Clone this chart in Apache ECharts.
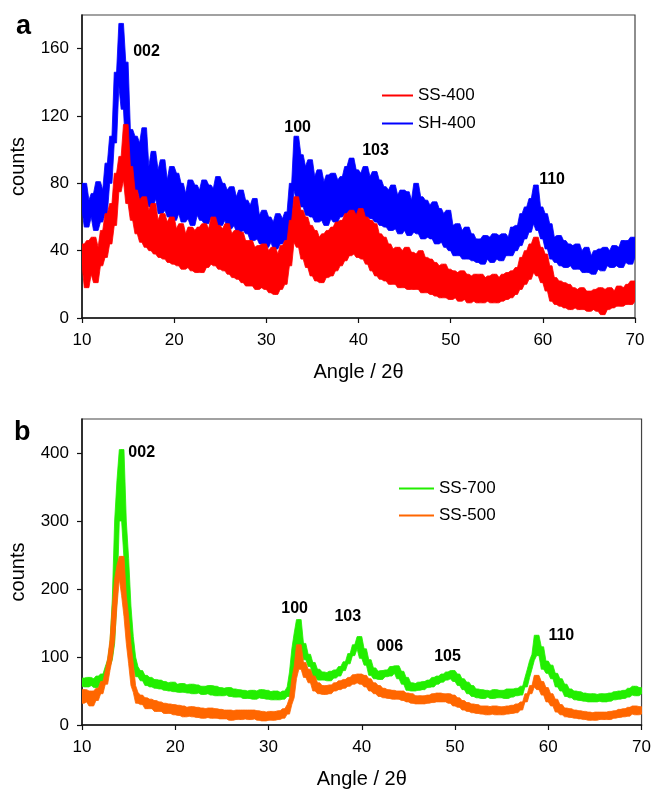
<!DOCTYPE html>
<html>
<head>
<meta charset="utf-8">
<script src="https://cdn.jsdelivr.net/npm/echarts@6/dist/echarts.min.js"></script>
<style>
html,body{margin:0;padding:0;background:#fff;}
#chart{width:654px;height:790px;}
</style>
</head>
<body>
<div id="chart"></div>
<script>
// Measurement grid: 2θ from 10 to 70 in 0.25° steps (241 points)
const angleStart = 10;
const angleStep = 0.25;

// Panel a
const sh400 = [
64,80,54,70, 60,74,52,81, 57,76,62,92, 80,108,104,146, 138,175,124,152,
98,112,82,108, 76,104,70,113, 69,90,66,99, 71,88,62,94, 64,82,60,90,
58,86,62,80, 57,74,59,82, 55,79,61,76, 58,82,56,79, 60,77,57,84,
55,80,58,76, 53,78,55,72, 51,76,52,70, 50,67,46,71, 47,61,44,64,
42,60,45,57, 41,62,44,59, 46,63,52,80, 76,108,70,97, 66,90,61,94,
60,84,57,88, 58,81,55,85, 59,86,57,82, 60,84,62,90, 64,95,60,88,
62,86,58,90, 60,84,59,87, 57,82,55,78, 54,76,52,79, 53,73,50,76,
52,75,49,70, 51,80,50,72, 47,70,48,67, 47,69,44,65, 45,62,42,64,
40,55,37,56, 37,52,35,54, 35,50,34,47, 33,47,32,49, 35,48,33,50,
35,49,34,50, 37,48,37,54, 40,55,43,62, 47,66,51,71, 56,79,52,66,
47,62,41,56, 35,48,33,49, 31,46,30,44, 31,43,29,44, 29,40,27,42,
27,37,26,40, 29,41,28,42, 31,40,30,43, 31,42,30,46, 33,46,32,48,
36
];
const ss400 = [
32,44,18,46, 26,48,21,42, 31,52,36,62, 44,68,55,86, 75,96,82,115,
68,90,58,76, 50,70,45,72, 42,64,40,68, 38,58,36,62, 35,57,33,60,
32,53,31,56, 29,50,30,54, 28,52,27,54, 27,56,30,53, 32,60,31,55,
29,53,28,56, 26,50,24,52, 23,51,21,46, 19,46,19,42, 17,43,18,44,
17,40,15,42, 14,38,17,43, 20,46,31,58, 45,72,42,64, 35,60,30,55,
25,52,22,48, 21,50,24,52, 25,54,28,57, 31,58,34,62, 37,64,38,61,
36,65,35,60, 32,58,28,56, 25,50,23,48, 22,44,20,41, 20,42,18,40,
18,42,17,39, 17,38,17,40, 15,36,15,35, 14,33,13,31, 12,32,12,29,
11,28,12,27, 10,28,11,26, 9,25,10,26, 9,26,9,24, 10,25,9,26,
9,24,10,26, 11,27,12,28, 14,30,17,36, 20,40,23,44, 27,48,25,42,
21,38,16,31, 10,24,8,22, 7,21,6,20, 5,18,6,17, 5,18,5,16,
4,16,5,17, 4,18,2,17, 5,18,6,16, 7,19,7,18, 8,20,8,22,
10
];

// Panel b
const ss700 = [
57,69,56,70, 58,68,55,72, 64,75,73,86, 96,120,185,300, 360,405,300,245,
175,130,100,86, 71,80,65,73, 58,70,56,67, 54,66,53,64, 51,62,50,63,
49,60,48,61, 48,59,47,60, 46,59,47,57, 45,57,46,58, 44,57,43,55,
43,54,44,55, 42,53,41,52, 41,51,39,50, 39,51,38,50, 40,52,39,51,
38,49,37,50, 37,48,38,50, 42,56,78,112, 135,155,112,120, 96,104,86,92,
71,82,66,78, 66,77,65,79, 69,81,72,86, 80,93,90,105, 102,118,112,130,
98,112,88,96, 73,84,68,79, 67,80,71,81, 72,86,76,87, 68,79,60,70,
51,62,50,61, 51,63,52,64, 55,66,56,70, 60,72,63,75, 66,78,68,80,
64,75,58,68, 52,63,46,58, 42,53,40,52, 39,51,41,50, 39,52,40,51,
40,51,39,53, 41,53,43,54, 44,57,56,70, 82,95,104,132, 102,115,82,94,
76,88,68,76, 56,68,50,60, 42,53,40,50, 37,49,36,47, 35,46,34,46,
34,45,35,46, 34,46,35,47, 37,49,38,50, 39,51,41,54, 44,57,43,55,
46
];
const ss500 = [
32,52,34,50, 28,50,36,54, 46,64,60,80, 98,125,175,215, 235,248,190,160,
120,90,58,48, 32,44,30,40, 24,38,24,36, 20,34,20,32, 17,31,17,30,
15,29,14,28, 12,26,13,27, 12,26,11,25, 10,24,11,25, 10,24,10,23,
9,22,9,22, 7,21,8,22, 8,22,9,22, 8,22,9,21, 7,20,6,19,
7,20,7,20, 8,21,10,24, 16,30,40,68, 86,118,82,92, 70,82,62,72,
50,62,46,58, 45,58,46,59, 50,62,52,65, 54,67,57,70, 60,74,62,75,
60,73,56,68, 50,62,46,58, 42,54,40,52, 39,51,38,50, 38,50,36,47,
34,46,32,43, 31,43,31,43, 32,44,33,46, 34,47,34,46, 34,46,32,44,
28,40,26,36, 22,33,20,31, 18,30,17,28, 16,28,15,27, 16,28,15,27,
15,27,16,28, 17,29,18,31, 22,34,34,46, 46,58,56,73, 52,64,44,55,
34,46,28,38, 19,30,15,25, 12,24,11,22, 10,21,9,20, 8,19,7,18,
7,19,8,19, 8,19,8,20, 10,21,11,23, 12,24,13,26, 16,28,15,27,
16
];

// Axis ticks
const xTicks = [10, 20, 30, 40, 50, 60, 70];
const yTicksA = [0, 40, 80, 120, 160];
const yTicksB = [0, 100, 200, 300, 400];

// Peak labels (text, 2θ, counts)
const peaksA = [['002', 17.0, 158], ['100', 33.4, 113], ['103', 41.85, 99.5], ['110', 61.0, 82]];
const peaksB = [['002', 16.4, 401], ['100', 32.8, 171], ['103', 38.5, 160], ['006', 43.0, 116], ['105', 49.2, 101], ['110', 61.4, 132]];

function angleAt(i) { return angleStart + i * angleStep; }

const FONT = '"Liberation Sans", Arial, sans-serif';
const chart = echarts.init(document.getElementById('chart'), null, {renderer: 'canvas'});

function xAxisDef(gi) {
  return {
    type: 'value', gridIndex: gi, min: xTicks[0], max: xTicks[xTicks.length - 1],
    interval: xTicks[1] - xTicks[0],
    name: 'Angle / 2θ', nameLocation: 'middle', nameGap: 44,
    nameTextStyle: {fontFamily: FONT, fontSize: 20, color: '#000'},
    axisLine: {show: true, onZero: false, lineStyle: {color: '#111', width: 1.5}},
    axisTick: {show: true, inside: false, length: 5, lineStyle: {color: '#111', width: 1.2}},
    axisLabel: {fontFamily: FONT, fontSize: 17, color: '#000', margin: 14},
    splitLine: {show: false}
  };
}
function yAxisDef(gi, ticks, max) {
  return {
    type: 'value', gridIndex: gi, min: ticks[0], max: max,
    interval: ticks[1] - ticks[0],
    name: 'counts', nameLocation: 'middle', nameGap: 54,
    nameTextStyle: {fontFamily: FONT, fontSize: 20, color: '#000'},
    axisLine: {show: true, onZero: false, lineStyle: {color: '#111', width: 1.5}},
    axisTick: {show: true, inside: false, length: 5, lineStyle: {color: '#111', width: 1.2}},
    axisLabel: {fontFamily: FONT, fontSize: 17, color: '#000', margin: 13, showMaxLabel: false},
    splitLine: {show: false}
  };
}
// Noisy trace drawn as a solid band spanning the local spread of the read values
function bandSeries(name, data, color, xi, yi, z) {
  const n = data.length;
  const lo = data.map((v, i) => Math.min(data[Math.max(0, i - 1)], v, data[Math.min(n - 1, i + 1)]));
  const hi = data.map((v, i) => Math.max(data[Math.max(0, i - 1)], v, data[Math.min(n - 1, i + 1)]));
  return {
    name: name, type: 'custom', coordinateSystem: 'cartesian2d',
    xAxisIndex: xi, yAxisIndex: yi, z: z, silent: true, animation: false, clip: true,
    itemStyle: {color: color},
    data: [[angleAt(0), data[0]]],
    encode: {x: 0, y: 1},
    renderItem: function (params, api) {
      const pts = [];
      for (let i = 0; i < n; i++) pts.push(api.coord([angleAt(i), hi[i]]));
      for (let i = n - 1; i >= 0; i--) pts.push(api.coord([angleAt(i), lo[i]]));
      const line = [];
      for (let i = 0; i < n; i++) line.push(api.coord([angleAt(i), data[i]]));
      return {
        type: 'group',
        children: [
          {type: 'polygon', shape: {points: pts}, style: {fill: color, stroke: color, lineWidth: 0.8}},
          {type: 'polyline', shape: {points: line}, style: {fill: null, stroke: color, lineWidth: 1}}
        ]
      };
    }
  };
}
function peakSeries(peaks, xi, yi) {
  return {
    type: 'scatter', xAxisIndex: xi, yAxisIndex: yi, symbolSize: 0,
    itemStyle: {color: '#000'},
    data: peaks.map(p => ({name: p[0], value: [p[1], p[2]]})),
    label: {show: true, position: [0, 0], align: 'center', verticalAlign: 'middle',
            formatter: '{b}', fontFamily: FONT,
            fontSize: 16, fontWeight: 'bold', color: '#000',
            textBorderWidth: 0, textBorderColor: 'transparent', opacity: 1},
    z: 10, animation: false, silent: true
  };
}

chart.setOption({
  backgroundColor: '#fff',
  animation: false,
  title: [
    {text: 'a', left: 11, top: 8, textStyle: {fontFamily: FONT, fontSize: 27, fontWeight: 'bold', color: '#000'}},
    {text: 'b', left: 9, top: 414, textStyle: {fontFamily: FONT, fontSize: 27, fontWeight: 'bold', color: '#000'}}
  ],
  grid: [
    {left: 81, top: 15, width: 554, height: 303, show: true, borderColor: '#444', borderWidth: 1.2, backgroundColor: 'transparent'},
    {left: 77, top: 419, width: 566, height: 308, show: true, borderColor: '#444', borderWidth: 1.2, backgroundColor: 'transparent'}
  ],
  legend: [
    {data: ['SS-400', 'SH-400'], orient: 'vertical', left: 377, top: 82, icon: 'rect', itemWidth: 31, itemHeight: 2, itemGap: 11,
     textStyle: {fontFamily: FONT, fontSize: 17, color: '#000'}, selectedMode: false},
    {data: ['SS-700', 'SS-500'], orient: 'vertical', left: 394, top: 475, icon: 'rect', itemWidth: 35, itemHeight: 2, itemGap: 10,
     textStyle: {fontFamily: FONT, fontSize: 17, color: '#000'}, selectedMode: false}
  ],
  xAxis: [xAxisDef(0), xAxisDef(1)],
  yAxis: [yAxisDef(0, yTicksA, 180), yAxisDef(1, yTicksB, 450)],
  series: [
    bandSeries('SH-400', sh400, '#0000ff', 0, 0, 2),
    bandSeries('SS-400', ss400, '#ff0000', 0, 0, 3),
    peakSeries(peaksA, 0, 0),
    bandSeries('SS-700', ss700, '#22ee00', 1, 1, 2),
    bandSeries('SS-500', ss500, '#ff6600', 1, 1, 3),
    peakSeries(peaksB, 1, 1)
  ]
});
</script>
</body>
</html>
